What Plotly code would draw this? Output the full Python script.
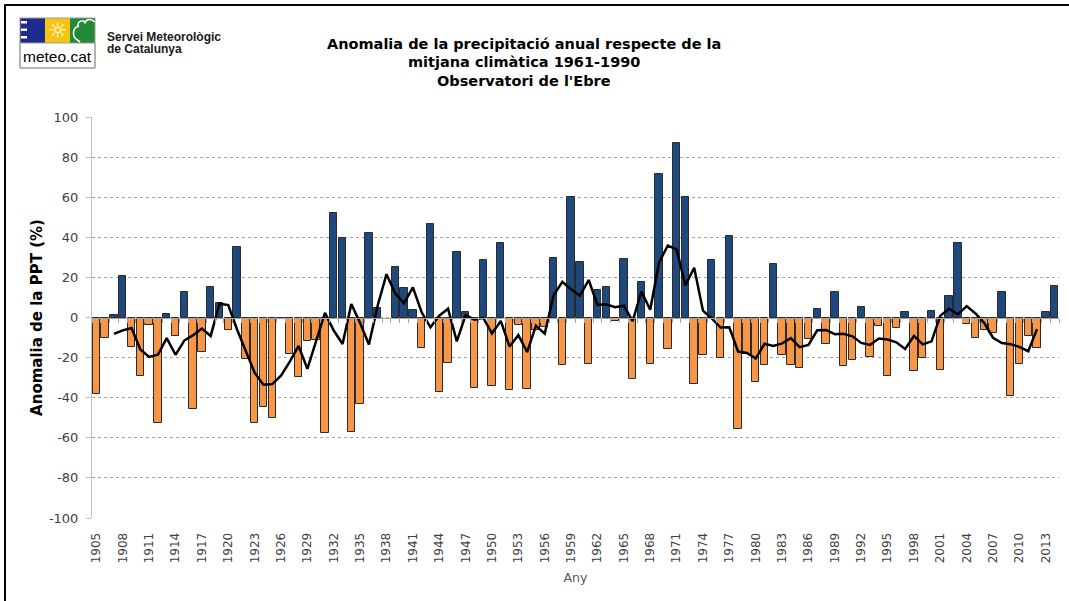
import plotly.graph_objects as go

# ---------------- data ----------------
years = list(range(1905, 2015))
anomaly = [
    -38, -10, 1.2, 20.7, -14.7, -29.3, -3.7, -52.5, 1.7, -9.3,        # 1905-1914
    12.5, -45.5, -17, 15.2, 7.3, -6, 35, -20.5, -52.5, -44.8,         # 1915-1924
    -50, -0.5, -18, -29.7, -11.8, -11, -57.7, 52, 39.8, -57,          # 1925-1934
    -43.3, 42, 4.5, None, 25, 14.8, 3.8, -15, 46.5, -37.2,            # 1935-1944
    -22.5, 32.5, 2.5, -35, 28.7, -34.3, 37, -36, -3.7, -35.5,         # 1945-1954
    -6, -4.7, 29.5, -23.7, 60, 27.7, -23, 13.7, 15, -1.8,             # 1955-1964
    29.2, -30.5, 17.5, -23.3, 71.5, -15.5, 87, 60, -33, -18.5,        # 1965-1974
    28.7, -20, 40.5, -55.5, -18, -32, -23.7, 26.8, -18.5, -23.7,      # 1975-1984
    -25.2, -10.7, 4.2, -13, 12.5, -24, -21.3, 5.3, -19.7, -4,         # 1985-1994
    -29, -5.2, 2.8, -26.7, -20.2, 3.2, -26.3, 10.7, 37, -3,           # 1995-2004
    -10.2, -6, -7.8, 12.8, -39.3, -23, -9.2, -15, 2.5, 15.5,          # 2005-2014
]

ma_years = list(range(1907, 2013))
moving_avg = [
    -8.2, -6.4, -5.2, -15.9, -19.7, -18.6, -10.3, -18.6, -11.5, -8.8,   # 1907-1916
    -5.5, -9.2, 6.9, 6.2, -6.0, -17.0, -27.5, -33.5, -33.2, -29.0,      # 1917-1926
    -22.0, -14.2, -25.6, -11.6, 2.3, -6.5, -13.2, 6.7, -2.8, -13.5,     # 1927-1936
    6.0, 21.6, 12.0, 7.2, 15.0, 2.6, -4.9, 0.9, 4.4, -11.9,             # 1937-1946
    1.2, -1.1, -0.2, -7.9, -1.7, -14.5, -8.8, -17.2, -4.1, -8.1,        # 1947-1956
    11.0, 17.8, 14.1, 10.9, 18.7, 6.3, 6.6, 5.1, 5.9, -1.8,             # 1957-1966
    12.9, 3.9, 27.4, 35.9, 34.0, 16.0, 24.8, 3.4, -0.5, -5.0,           # 1967-1976
    -4.9, -17.0, -17.7, -20.5, -13.1, -14.2, -12.9, -10.3, -14.8, -13.7,  # 1977-1986
    -6.4, -6.2, -8.3, -8.1, -9.4, -12.7, -13.7, -10.5, -11.0, -12.4,    # 1987-1996
    -15.7, -9.2, -13.4, -11.9, 0.9, 4.3, 1.6, 5.7, 2.0, -2.8,           # 1997-2006
    -10.1, -12.7, -13.3, -14.7, -16.8, -5.8,                            # 2007-2012
]

tick_years = list(range(1905, 2014, 3))
tick_labels = [str(y) for y in tick_years]
y_ticks = list(range(-100, 101, 20))
y_tick_labels = [str(v) for v in y_ticks]

title_lines = [
    "Anomalia de la precipitació anual respecte de la",
    "mitjana climàtica 1961-1990",
    "Observatori de l'Ebre",
]
y_title = "Anomalia de la PPT (%)"
x_title = "Any"
org_lines = ["Servei Meteorològic", "de Catalunya"]
logo_text = "meteo.cat"

# ---------------- geometry helpers ----------------
W, H = 1069, 601
L, R, T, B = 92, 10, 117, 83
PW = W - L - R
PH = H - T - B


def px(x):
    return (x - L) / PW


def py(y):
    return (H - B - y) / PH


POS = "#1F497D"
NEG = "#F79646"
bar_colors = [POS if (v is not None and v >= 0) else NEG for v in anomaly]

fig = go.Figure()
fig.add_trace(go.Bar(
    x=years, y=anomaly, width=0.84,
    marker=dict(color=bar_colors, line=dict(color="#2b2b2b", width=1)),
    showlegend=False, hovertemplate="%{x}: %{y}%<extra></extra>",
))
fig.add_trace(go.Scatter(
    x=ma_years, y=moving_avg, mode="lines",
    line=dict(color="black", width=2.5),
    showlegend=False, hoverinfo="skip",
))
# helper trace so the zero-level category axis is drawn
fig.add_trace(go.Scatter(x=[], y=[], xaxis="x2", showlegend=False, hoverinfo="skip"))

boundaries = [y - 0.5 for y in years] + [years[-1] + 0.5]

fig.update_layout(
    width=W, height=H,
    margin=dict(l=L, r=R, t=T, b=B, pad=0),
    paper_bgcolor="white", plot_bgcolor="white",
    font=dict(family="DejaVu Sans", color="#404040"),
    bargap=0,
    xaxis=dict(
        range=[1904.5, 2014.5], tickmode="array", tickvals=tick_years, ticktext=tick_labels,
        tickangle=-90, tickfont=dict(size=12, color="#404040"),
        ticks="outside", ticklen=9, tickcolor="rgba(0,0,0,0)",
        showgrid=False, zeroline=False, showline=False,
        title=dict(text=x_title, font=dict(size=12.5, color="#595959"), standoff=10),
    ),
    xaxis2=dict(
        overlaying="x", anchor="free", position=0.5, side="bottom",
        range=[1904.5, 2014.5], tickmode="array", tickvals=boundaries,
        ticks="outside", ticklen=4, tickcolor="#a6a6a6", showticklabels=False,
        showline=True, linecolor="#a6a6a6", linewidth=1,
        showgrid=False, zeroline=False,
    ),
    yaxis=dict(
        range=[-100, 100], tickmode="array", tickvals=y_ticks, ticktext=y_tick_labels,
        showgrid=True, gridcolor="#a6a6a6", griddash="dot", gridwidth=1,
        zeroline=False, showline=True, linecolor="#bfbfbf", linewidth=1,
        ticks="outside", ticklen=5, tickcolor="#bfbfbf",
        tickfont=dict(size=13, color="#404040"), ticklabelstandoff=5,
        title=dict(text="<b>" + y_title + "</b>", font=dict(size=15, color="black"), standoff=2),
    ),
)

annotations = []
for text, yc in zip(title_lines, [44, 62, 81]):
    annotations.append(dict(
        x=px(524), y=py(yc), xref="paper", yref="paper", xanchor="center", yanchor="middle",
        text="<b>" + text + "</b>", showarrow=False,
        font=dict(family="DejaVu Sans", size=14.5, color="black"),
    ))
for text, yc in zip(org_lines, [37, 49]):
    annotations.append(dict(
        x=px(105), y=py(yc), xref="paper", yref="paper", xanchor="left", yanchor="middle",
        text="<b>" + text + "</b>", showarrow=False,
        font=dict(family="Liberation Sans", size=12, color="#1a1a1a"),
    ))
annotations.append(dict(
    x=px(57.5), y=py(56), xref="paper", yref="paper", xanchor="center", yanchor="middle",
    text=logo_text, showarrow=False,
    font=dict(family="Liberation Sans", size=15.5, color="black"),
))
annotations.append(dict(
    x=px(57.5), y=py(30.5), xref="paper", yref="paper", xanchor="center", yanchor="middle",
    text="☼", showarrow=False,
    font=dict(family="DejaVu Sans", size=22, color="white"),
))
fig.update_layout(annotations=annotations)


def rect(x0, y0, x1, y1, **kw):
    return dict(type="rect", xref="paper", yref="paper",
                x0=px(x0), x1=px(x1), y0=py(y0), y1=py(y1), **kw)


def seg(x0, y0, x1, y1, **kw):
    return dict(type="line", xref="paper", yref="paper",
                x0=px(x0), x1=px(x1), y0=py(y0), y1=py(y1), **kw)


shapes = [
    # outer frame (only left and top edges fall inside the picture)
    seg(5, 4, 5, 700, line=dict(color="black", width=2), layer="below"),
    seg(4, 5, 1200, 5, line=dict(color="black", width=2), layer="below"),
    # logo blocks
    rect(20, 18, 45, 43, line=dict(width=0), fillcolor="#1b2a8c"),
    rect(45, 18, 70, 43, line=dict(width=0), fillcolor="#f6c412"),
    rect(70, 18, 95, 43, line=dict(width=0), fillcolor="#23883a"),
    rect(20, 43, 95, 68, line=dict(color="#9a9a9a", width=1), fillcolor="white"),
    rect(20, 18, 95, 68, line=dict(color="#9a9a9a", width=1), fillcolor="rgba(0,0,0,0)"),
    rect(21, 21, 27, 23.5, line=dict(width=0), fillcolor="white"),
    rect(21, 28.5, 27, 31, line=dict(width=0), fillcolor="white"),
    rect(21, 36, 27, 38.5, line=dict(width=0), fillcolor="white"),
]
cloud_pts = "M {a},{b} C {c},{d} {e},{f} {g},{h} C {i},{j} {k},{l} {m},{n} C {o},{p} {q},{r} {s},{t} L {u},{v}".format(
    a=px(94.5), b=py(22), c=px(92), d=py(18.5), e=px(86.5), f=py(18.5), g=px(85), h=py(22.5),
    i=px(83), j=py(19.5), k=px(77.5), l=py(20.5), m=px(78), n=py(26.5),
    o=px(73), p=py(27.5), q=px(72), r=py(35.5), s=px(76), t=py(39),
    u=px(80), v=py(42),
)
shapes.append(dict(type="path", xref="paper", yref="paper", path=cloud_pts,
                   line=dict(color="white", width=1.6)))
fig.update_layout(shapes=shapes)

fig.write_html(
    "out.html",
    config={"displayModeBar": False},
    post_script="document.body.style.margin='0';document.body.style.overflow='hidden';",
)
